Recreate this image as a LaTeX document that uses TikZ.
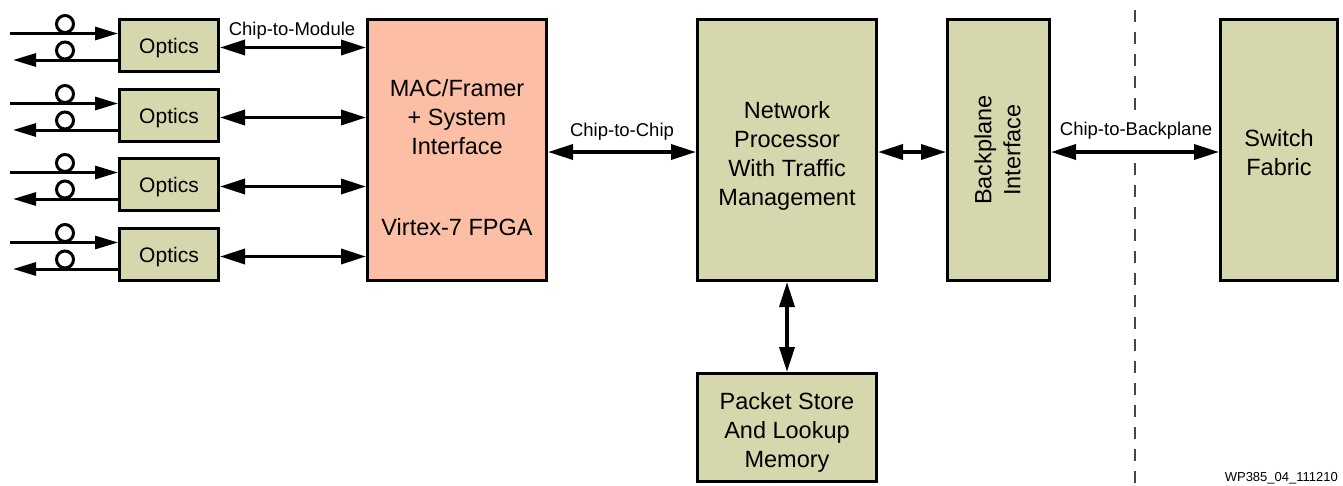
\documentclass[tikz,border=0pt]{standalone}
\usepackage{fontspec}
\setmainfont{Liberation Sans}
\usetikzlibrary{arrows.meta}
\definecolor{boxolive}{RGB}{214,215,172}
\definecolor{boxsalmon}{RGB}{252,191,165}
\definecolor{dashgray}{RGB}{70,70,70}
\begin{document}
\begin{tikzpicture}[x=1pt,y=-1pt,
  box/.style={draw=black,line width=3pt,fill=boxolive,inner sep=0pt},
  optbox/.style={box,minimum width=99pt,minimum height=52pt},
  boxtext/.style={align=center,inner sep=0pt,font=\fontsize{23.5}{29}\selectfont},
  opttext/.style={inner sep=0pt,font=\fontsize{21}{25}\selectfont},
  link/.style={line width=3.5pt,{Triangle[length=25pt,width=15pt]}-{Triangle[length=25pt,width=15pt]}},
  fiber/.style={line width=3pt,-{Triangle[length=23pt,width=13pt]}},
  loop/.style={line width=3pt},
  lbl/.style={font=\fontsize{18.5}{22}\selectfont,inner sep=0pt},
  divider/.style={draw=dashgray,line width=1.5pt,dash pattern=on 12pt off 10pt},
]
\useasboundingbox (0,0) rectangle (1343,485);

% main blocks
\node[box,fill=boxsalmon,minimum width=179pt,minimum height=261pt] (mac) at (457,150) {};
\node[boxtext] (mactxt) at (457,157.5) {MAC/Framer\\+ System\\Interface\\[52pt]Virtex-7 FPGA};
\node[box,minimum width=179pt,minimum height=261pt] (np) at (787,150) {};
\node[boxtext] (nptxt) at (787,155.5) {Network\\Processor\\With Traffic\\Management};
\node[box,minimum width=102pt,minimum height=261pt] (bp) at (998.5,150) {};
\node[boxtext,rotate=90] (bptxt) at (997.5,150) {Backplane\\Interface};
\node[box,minimum width=117pt,minimum height=261pt] (sf) at (1279,150) {};
\node[boxtext] (sftxt) at (1279,152.5) {Switch\\Fabric};
\node[box,minimum width=179pt,minimum height=108pt] (pk) at (787,427.5) {};
\node[boxtext] (pktxt) at (787,432) {Packet Store\\And Lookup\\Memory};

% optics with fibers
\foreach \i/\yc in {1/45.5,2/115.5,3/184.5,4/254.5}{
  \node[optbox] (o\i) at (169,\yc) {};
  \node[opttext] (ot\i) at (169,\yc+3) {Optics};
  \coordinate (in\i) at (10,\yc-12);
  \coordinate (out\i) at (13,\yc+14.5);
  \coordinate (la\i) at (65,\yc-21.5);
  \coordinate (lb\i) at (65,\yc+5);
  \draw[fiber] (in\i) -- (in\i -| o\i.west);
  \draw[fiber] (out\i -| o\i.west) -- (out\i);
  \draw[loop] (la\i) circle (8.5);
  \draw[loop] (lb\i) circle (8.5);
  \draw[link] ([yshift=-2pt]o\i.east) -- ([yshift=-2pt]o\i.east -| mac.west);
}

% connectors
\draw[link] ([yshift=-2pt]mac.east) -- ([yshift=-2pt]np.west);
\draw[link] ([yshift=-2pt]np.east) -- ([yshift=-2pt]bp.west);
\draw[link] ([yshift=-2pt]bp.east) -- ([yshift=-2pt]sf.west);
\draw[link] (np.south) -- (pk.north);

% divider
\coordinate (d1) at (1135,10);
\coordinate (d2) at (1135,113);
\coordinate (d3) at (1135,163);
\coordinate (d4) at (1135,490);
\draw[divider] (d1) -- (d2);
\draw[divider] (d3) -- (d4);

% labels
\node[lbl] (c2m) at (292,31) {Chip-to-Module};
\node[lbl] (c2c) at (622,132) {Chip-to-Chip};
\node[lbl] (c2b) at (1136,131) {Chip-to-Backplane};
\node[font=\fontsize{13}{15}\selectfont,anchor=base east,inner sep=0pt] (wp) at (1338,481) {WP385\_04\_111210};
\end{tikzpicture}
\end{document}
